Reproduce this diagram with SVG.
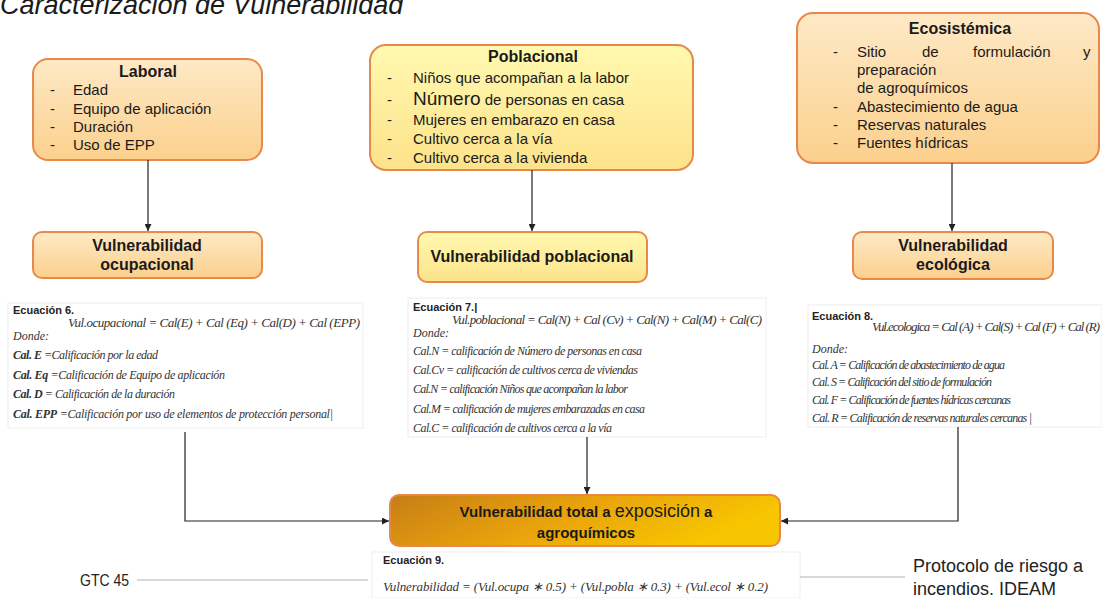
<svg xmlns="http://www.w3.org/2000/svg" width="1102" height="598" viewBox="0 0 1102 598">
<defs>
<linearGradient id="gPeach" x1="0" y1="0" x2="0" y2="1">
<stop offset="0" stop-color="#fee9c6"/><stop offset="1" stop-color="#fbd08c"/>
</linearGradient>
<linearGradient id="gYellow" x1="0" y1="0" x2="0" y2="1">
<stop offset="0" stop-color="#fff9b0"/><stop offset="1" stop-color="#fde28a"/>
</linearGradient>
<linearGradient id="gTotal" x1="0" y1="0" x2="1" y2="0.3">
<stop offset="0" stop-color="#c67d16"/><stop offset="0.5" stop-color="#e8a20c"/><stop offset="1" stop-color="#f8c600"/>
</linearGradient>
<marker id="arr" viewBox="0 0 10 10" refX="10" refY="5" markerWidth="7" markerHeight="7" orient="auto" markerUnits="userSpaceOnUse">
<path d="M0,0 L10,5 L0,10 z" fill="#222"/>
</marker>
<style>
.box{stroke:#e8894c;stroke-width:2}
.t{font-family:"Liberation Sans",Arial,sans-serif;fill:#1a1a1a}
.h{font-weight:bold;font-size:16px}
.i{font-size:15px}
.eqh{font-family:"Liberation Sans",Arial,sans-serif;font-weight:bold;font-size:11px;fill:#222}
.f{font-family:"Liberation Serif","Times New Roman",serif;font-style:italic;font-size:13px;fill:#333}
.c{font-family:"Liberation Serif","Times New Roman",serif;font-style:italic;font-size:12px;fill:#333}
.ebox{fill:#fff;stroke:#eeeeee;stroke-width:1}
.con{fill:none;stroke:#222;stroke-width:1.2}
.gl{stroke:#b0b0b0;stroke-width:1}
.cal{font-family:"Liberation Sans",Arial,sans-serif;fill:#222}
</style>
</defs>

<text x="0" y="14" class="t" font-style="italic" font-size="27">Caracterización de Vulnerabilidad</text>

<g id="laboral">
<rect x="33" y="59" width="229" height="101" rx="15" class="box" fill="url(#gPeach)"/>
<text x="148" y="77" class="t h" text-anchor="middle">Laboral</text>
<text x="50" y="95" class="t i">-</text><text x="73" y="95" class="t i">Edad</text>
<text x="50" y="114" class="t i">-</text><text x="73" y="114" class="t i">Equipo de aplicación</text>
<text x="50" y="132" class="t i">-</text><text x="73" y="132" class="t i">Duración</text>
<text x="50" y="150" class="t i">-</text><text x="73" y="150" class="t i">Uso de EPP</text>
</g>

<g id="poblacional">
<rect x="370" y="45" width="323" height="125" rx="16" class="box" fill="url(#gYellow)"/>
<text x="533" y="62" class="t h" text-anchor="middle">Poblacional</text>
<text x="387" y="83" class="t i">-</text><text x="413" y="83" class="t i">Niños que acompañan a la labor</text>
<text x="387" y="105" class="t i">-</text><text x="413" y="105" class="t i"><tspan font-size="19">Número</tspan> de personas en casa</text>
<text x="387" y="125" class="t i">-</text><text x="413" y="125" class="t i">Mujeres en embarazo en casa</text>
<text x="387" y="144" class="t i">-</text><text x="413" y="144" class="t i">Cultivo cerca a la vía</text>
<text x="387" y="163" class="t i">-</text><text x="413" y="163" class="t i">Cultivo cerca a la vivienda</text>
</g>

<g id="ecosistemica">
<rect x="797" y="13" width="302" height="150" rx="16" class="box" fill="url(#gPeach)"/>
<text x="960" y="34" class="t h" text-anchor="middle">Ecosistémica</text>
<text x="833" y="57" class="t i">-</text>
<text x="857" y="57" class="t i">Sitio</text><text x="922" y="57" class="t i">de</text><text x="973" y="57" class="t i">formulación</text><text x="1083" y="57" class="t i">y</text>
<text x="857" y="75" class="t i">preparación</text>
<text x="857" y="93" class="t i">de agroquímicos</text>
<text x="833" y="112" class="t i">-</text><text x="857" y="112" class="t i">Abastecimiento de agua</text>
<text x="833" y="130" class="t i">-</text><text x="857" y="130" class="t i">Reservas naturales</text>
<text x="833" y="148" class="t i">-</text><text x="857" y="148" class="t i">Fuentes hídricas</text>
</g>

<g id="vul-ocupacional">
<rect x="33" y="232" width="229" height="46" rx="9" class="box" fill="url(#gPeach)"/>
<text x="147" y="251" class="t h" text-anchor="middle">Vulnerabilidad</text>
<text x="147" y="270" class="t h" text-anchor="middle">ocupacional</text>
</g>

<g id="vul-poblacional">
<rect x="418" y="232" width="229" height="50" rx="9" class="box" fill="url(#gYellow)"/>
<text x="532" y="262" class="t h" text-anchor="middle">Vulnerabilidad poblacional</text>
</g>

<g id="vul-ecologica">
<rect x="853" y="232" width="200" height="47" rx="9" class="box" fill="url(#gPeach)"/>
<text x="953" y="251" class="t h" text-anchor="middle">Vulnerabilidad</text>
<text x="953" y="270" class="t h" text-anchor="middle">ecológica</text>
</g>

<g id="ecuacion6">
<rect x="8" y="303" width="355" height="125" class="ebox"/>
<text x="13" y="314" class="eqh">Ecuación 6.</text>
<text x="68" y="327" class="f" textLength="292">Vul.ocupacional = Cal(E) + Cal (Eq) + Cal(D) + Cal (EPP)</text>
<text x="13" y="340" class="c">Donde:</text>
<text x="13" y="359" class="c" textLength="145"><tspan font-weight="bold">Cal. E</tspan> =Calificación por la edad</text>
<text x="13" y="379" class="c" textLength="212"><tspan font-weight="bold">Cal. Eq</tspan> =Calificación de Equipo de aplicación</text>
<text x="13" y="398" class="c" textLength="162"><tspan font-weight="bold">Cal. D</tspan> = Calificación de la duración</text>
<text x="13" y="418" class="c" textLength="320"><tspan font-weight="bold">Cal. EPP</tspan> =Calificación por uso de elementos de protección personal|</text>
</g>

<g id="ecuacion7">
<rect x="408" y="298" width="358" height="139" class="ebox"/>
<text x="413" y="311" class="eqh">Ecuación 7.|</text>
<text x="452" y="324" class="f" textLength="310">Vul.poblacional = Cal(N) + Cal (Cv) + Cal(N) + Cal(M) + Cal(C)</text>
<text x="413" y="337" class="c">Donde:</text>
<text x="413" y="355" class="c" textLength="229">Cal.N = calificación de Número de personas en casa</text>
<text x="413" y="374" class="c" textLength="225">Cal.Cv = calificación de cultivos cerca de viviendas</text>
<text x="413" y="393" class="c" textLength="215">Cal.N = calificación Niños que acompañan la labor</text>
<text x="413" y="413" class="c" textLength="232">Cal.M = calificación de mujeres embarazadas en casa</text>
<text x="413" y="432" class="c" textLength="199">Cal.C = calificación de cultivos cerca a la vía</text>
</g>

<g id="ecuacion8">
<rect x="808" y="305" width="294" height="122" class="ebox"/>
<text x="812" y="320" class="eqh" font-size="10">Ecuación 8.</text>
<text x="872" y="331" class="f" font-size="12" textLength="228">Vul.ecologica = Cal (A) + Cal(S) + Cal (F) + Cal (R)</text>
<text x="812" y="353" class="c" font-size="10.5">Donde:</text>
<text x="812" y="369" class="c" font-size="10.5" textLength="193">Cal. A = Calificación de abastecimiento de agua</text>
<text x="812" y="386" class="c" font-size="10.5" textLength="180">Cal. S = Calificación del sitio de formulación</text>
<text x="812" y="404" class="c" font-size="10.5" textLength="199">Cal. F = Calificación de fuentes hídricas cercanas</text>
<text x="812" y="422" class="c" font-size="10.5" textLength="220">Cal. R = Calificación de reservas naturales cercanas |</text>
</g>

<g id="vul-total">
<rect x="390" y="495" width="390" height="51" rx="9" class="box" fill="url(#gTotal)"/>
<text x="586" y="517" class="t" font-weight="bold" font-size="15" text-anchor="middle">Vulnerabilidad total a <tspan font-weight="normal" font-size="18">exposición</tspan> a</text>
<text x="586" y="538" class="t" font-weight="bold" font-size="15" text-anchor="middle">agroquímicos</text>
</g>

<g id="ecuacion9">
<rect x="372" y="552" width="428" height="46" class="ebox"/>
<text x="383" y="564" class="eqh" font-size="10">Ecuación 9.</text>
<text x="383" y="591" class="f" font-size="12" textLength="385">Vulnerabilidad = (Vul.ocupa ∗ 0.5) + (Vul.pobla ∗ 0.3) + (Vul.ecol ∗ 0.2)</text>
</g>

<g id="gtc45">
<text x="80" y="586" class="cal" font-size="17" textLength="49" lengthAdjust="spacingAndGlyphs">GTC 45</text>
</g>

<g id="protocolo">
<text x="913" y="572" class="cal" font-size="18">Protocolo de riesgo a</text>
<text x="913" y="595" class="cal" font-size="18">incendios. IDEAM</text>
</g>

<g id="connectors">
<line x1="148" y1="160" x2="148" y2="231" class="con" marker-end="url(#arr)"/>
<line x1="532" y1="170" x2="532" y2="231" class="con" marker-end="url(#arr)"/>
<line x1="952" y1="163" x2="952" y2="231" class="con" marker-end="url(#arr)"/>
<polyline points="185,432 185,521 389,521" class="con" marker-end="url(#arr)"/>
<line x1="587" y1="437" x2="587" y2="494" class="con" marker-end="url(#arr)"/>
<polyline points="958,427 958,521 781,521" class="con" marker-end="url(#arr)"/>
<line x1="137" y1="580" x2="368" y2="580" class="gl"/>
<line x1="800" y1="577" x2="905" y2="577" class="gl"/>
</g>
</svg>
